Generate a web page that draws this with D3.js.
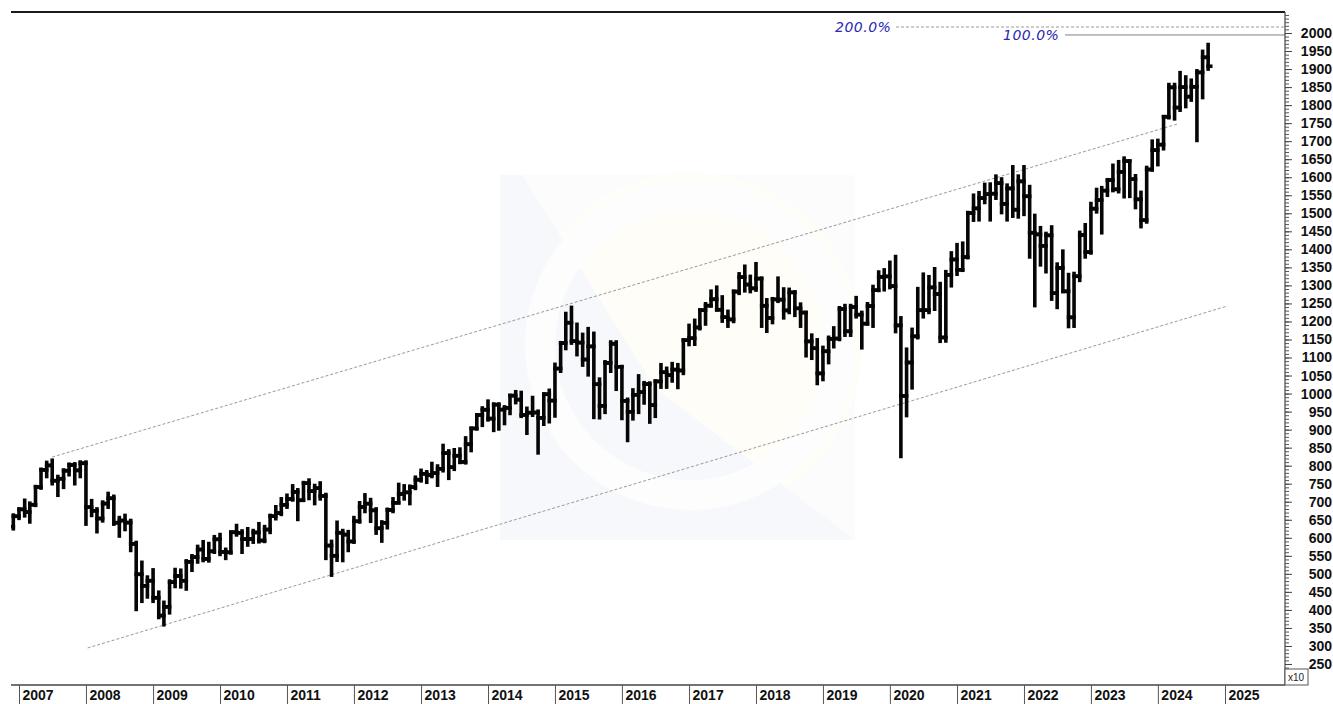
<!DOCTYPE html>
<html>
<head>
<meta charset="utf-8">
<script src="https://cdn.jsdelivr.net/npm/d3@7"></script>
<style>
  body { margin: 0; background: #fff; }
  svg { display: block; }
  .yr text, .ax text { font-family: "Liberation Sans", Arial, sans-serif; font-weight: bold; font-size: 14px; fill: #111; }
  .fib { font-family: "DejaVu Sans", Verdana, sans-serif; font-style: italic; font-size: 14px; fill: #2a2ab4; letter-spacing: 0.5px; }
</style>
</head>
<body>
<div id="chart"></div>
<script>
// monthly bars, Dec 2006 .. Oct 2024 (values in x10 units, as on the axis)
const firstMonth = new Date(2006, 11, 1);

const opens = [
  630.9,
  659.7, 678.9, 671.5, 691.7, 740.9, 788.3, 800.7, 758.4, 763.8, 786.1, 801.9, 787.0,
  806.7, 685.1, 674.8, 653.5, 694.9, 709.6, 641.8, 647.9, 642.2, 583.1, 498.8, 466.9,
  481.0, 433.8, 384.3, 408.5, 477.0, 494.1, 480.9, 533.2, 546.5, 567.5, 541.5, 562.5,
  595.7, 560.8, 559.8, 615.4, 613.6, 596.4, 596.6, 614.8, 592.5, 622.9, 660.1, 668.8,
  691.4, 707.7, 727.3, 704.1, 751.4, 729.4, 737.6, 715.9, 578.5, 550.2, 614.1, 608.9,
  589.8, 645.8, 685.6, 694.7, 676.1, 626.4, 641.6, 677.2, 697.0, 721.6, 726.0, 740.6,
  761.2, 777.6, 774.2, 779.5, 791.4, 834.9, 795.9, 827.6, 810.4, 859.4, 903.3, 940.5,
  955.2, 930.6, 969.2, 955.6, 960.3, 994.3, 983.3, 940.7, 947.0, 947.4, 932.7, 998.1,
  980.6, 1069.4, 1140.2, 1196.6, 1145.4, 1141.4, 1094.5, 1130.8, 1025.9, 966.0, 1085.0, 1138.2,
  1074.3, 979.8, 949.5, 996.5, 1003.9, 1026.3, 968.0, 1033.7, 1059.3, 1051.1, 1066.5, 1064.0,
  1148.1, 1153.5, 1183.4, 1231.3, 1243.8, 1261.5, 1232.5, 1211.8, 1205.6, 1282.9, 1323.0, 1302.4,
  1291.8, 1318.9, 1243.6, 1209.7, 1261.2, 1260.5, 1230.6, 1280.6, 1236.4, 1224.7, 1144.7, 1125.7,
  1055.9, 1117.3, 1151.6, 1152.6, 1234.4, 1172.7, 1239.9, 1218.9, 1193.9, 1242.8, 1286.7, 1323.6,
  1324.9, 1298.1, 1189.0, 993.6, 1086.2, 1158.7, 1231.1, 1231.3, 1294.5, 1276.1, 1155.6, 1329.1,
  1371.9, 1343.3, 1378.6, 1500.8, 1513.6, 1542.1, 1553.1, 1554.4, 1583.5, 1526.1, 1568.9, 1510.0,
  1588.5, 1547.1, 1446.1, 1441.5, 1409.8, 1438.8, 1278.4, 1348.4, 1283.5, 1211.4, 1325.3, 1439.7,
  1392.4, 1512.8, 1536.5, 1562.9, 1592.2, 1566.4, 1614.8, 1644.7, 1594.7, 1538.7, 1481.0, 1621.5,
  1675.2, 1690.4, 1767.8, 1849.2, 1793.2, 1849.8, 1823.5, 1850.9, 1890.7, 1932.5
];
const highs = [
  663.0,
  680.0, 704.0, 696.0, 742.0, 790.0, 809.0, 815.0, 770.0, 788.0, 804.0, 805.0, 810.0,
  810.0, 703.0, 680.0, 699.0, 723.0, 715.0, 656.0, 662.0, 648.0, 587.0, 532.0, 491.0,
  511.0, 449.0, 421.0, 480.0, 512.0, 510.0, 536.0, 550.0, 576.0, 589.0, 584.0, 603.0,
  609.0, 568.0, 616.0, 634.0, 619.0, 625.0, 620.0, 639.0, 631.0, 662.0, 686.0, 708.0,
  718.0, 744.0, 733.0, 753.0, 760.0, 745.0, 752.0, 720.0, 590.0, 643.0, 620.0, 617.0,
  656.0, 697.0, 719.0, 706.0, 680.0, 644.0, 679.0, 708.0, 748.0, 744.0, 743.0, 768.0,
  787.0, 783.0, 806.0, 799.0, 856.0, 841.0, 844.0, 846.0, 877.0, 904.0, 941.0, 960.0,
  979.0, 971.0, 971.0, 963.0, 995.0, 1005.0, 1003.0, 959.0, 989.0, 951.0, 999.0, 1009.0,
  1081.0, 1141.0, 1222.0, 1239.0, 1192.0, 1164.0, 1180.0, 1167.0, 1040.0, 1088.0, 1143.0, 1143.0,
  1075.0, 984.0, 1010.0, 1049.0, 1030.0, 1029.0, 1035.0, 1080.0, 1070.0, 1083.0, 1080.0, 1149.0,
  1189.0, 1203.0, 1232.0, 1249.0, 1284.0, 1295.0, 1268.0, 1228.0, 1284.0, 1332.0, 1353.0, 1325.0,
  1360.0, 1320.0, 1260.0, 1263.0, 1320.0, 1290.0, 1289.0, 1282.0, 1248.0, 1225.0, 1162.0, 1149.0,
  1128.0, 1156.0, 1182.0, 1238.0, 1244.0, 1244.0, 1266.0, 1225.0, 1249.0, 1297.0, 1337.0, 1343.0,
  1364.0, 1380.0, 1210.0, 1123.0, 1178.0, 1291.0, 1331.0, 1324.0, 1346.0, 1305.0, 1338.0, 1390.0,
  1413.0, 1417.0, 1502.0, 1550.0, 1557.0, 1580.0, 1581.0, 1603.0, 1595.0, 1578.0, 1629.0, 1603.0,
  1629.0, 1574.0, 1494.0, 1460.0, 1444.0, 1462.0, 1359.0, 1395.0, 1330.0, 1333.0, 1447.0, 1468.0,
  1527.0, 1566.0, 1571.0, 1593.0, 1633.0, 1643.0, 1653.0, 1645.0, 1604.0, 1558.0, 1627.0, 1700.0,
  1702.0, 1768.0, 1857.0, 1857.0, 1890.0, 1878.0, 1869.0, 1895.0, 1949.0, 1968.0
];
const lows = [
  625.0,
  654.0, 661.0, 644.0, 690.0, 738.0, 770.0, 750.0, 718.0, 740.0, 775.0, 750.0, 770.0,
  638.0, 662.0, 617.0, 647.0, 685.0, 638.0, 605.0, 623.0, 565.0, 401.4, 424.0, 436.0,
  424.0, 379.0, 358.8, 392.0, 465.0, 464.0, 458.0, 510.0, 533.0, 537.0, 536.0, 560.0,
  554.0, 543.0, 558.0, 608.0, 560.0, 580.0, 588.0, 589.0, 590.0, 615.0, 653.0, 665.0,
  685.0, 705.0, 651.0, 704.0, 709.0, 695.0, 708.0, 543.0, 496.5, 538.0, 537.0, 565.0,
  588.0, 644.0, 673.0, 646.0, 613.0, 591.0, 628.0, 673.0, 697.0, 708.0, 695.0, 737.0,
  758.0, 754.0, 770.0, 746.0, 786.0, 765.0, 790.0, 809.0, 808.0, 842.0, 902.0, 912.0,
  927.0, 898.0, 902.0, 917.0, 945.0, 975.0, 937.0, 890.0, 940.0, 835.5, 915.0, 922.0,
  938.0, 1062.0, 1125.0, 1140.0, 1108.0, 1079.0, 1052.0, 934.0, 933.0, 948.0, 1062.0, 1012.0,
  931.0, 870.0, 930.0, 948.0, 974.0, 921.0, 937.0, 1018.0, 1018.0, 1035.0, 1017.0, 1056.0,
  1136.0, 1137.0, 1180.0, 1193.0, 1243.0, 1232.0, 1201.0, 1187.0, 1200.0, 1278.0, 1285.0, 1283.0,
  1287.0, 1187.0, 1173.0, 1197.0, 1256.0, 1210.0, 1225.0, 1217.0, 1187.0, 1105.0, 1098.0, 1028.0,
  1039.0, 1086.0, 1130.0, 1150.0, 1162.0, 1162.0, 1213.0, 1127.0, 1193.0, 1187.0, 1286.0, 1288.0,
  1294.0, 1172.0, 825.6, 939.0, 1016.0, 1155.0, 1213.0, 1225.0, 1234.0, 1145.0, 1146.0, 1299.0,
  1331.0, 1342.0, 1377.0, 1481.0, 1482.0, 1530.0, 1482.0, 1542.0, 1502.0, 1482.0, 1492.0, 1490.0,
  1497.0, 1379.0, 1244.0, 1357.0, 1338.0, 1262.0, 1239.0, 1283.0, 1186.0, 1187.0, 1314.0, 1379.0,
  1390.0, 1504.0, 1446.0, 1550.0, 1563.0, 1560.0, 1546.0, 1547.0, 1516.0, 1463.0, 1476.0, 1620.0,
  1635.0, 1679.0, 1765.0, 1762.0, 1786.0, 1796.0, 1814.0, 1702.0, 1821.0, 1900.0
];
const closes = [
  659.7,
  678.9, 671.5, 691.7, 740.9, 788.3, 800.7, 758.4, 763.8, 786.1, 801.9, 787.0, 806.7,
  685.1, 674.8, 653.5, 694.9, 709.6, 641.8, 647.9, 642.2, 583.1, 498.8, 466.9, 481.0,
  433.8, 384.3, 408.5, 477.0, 494.1, 480.9, 533.2, 546.5, 567.5, 541.5, 562.5, 595.7,
  560.8, 559.8, 615.4, 613.6, 596.4, 596.6, 614.8, 592.5, 622.9, 660.1, 668.8, 691.4,
  707.7, 727.3, 704.1, 751.4, 729.4, 737.6, 715.9, 578.5, 550.2, 614.1, 608.9, 589.8,
  645.8, 685.6, 694.7, 676.1, 626.4, 641.6, 677.2, 697.0, 721.6, 726.0, 740.6, 761.2,
  777.6, 774.2, 779.5, 791.4, 834.9, 795.9, 827.6, 810.4, 859.4, 903.3, 940.5, 955.2,
  930.6, 969.2, 955.6, 960.3, 994.3, 983.3, 940.7, 947.0, 947.4, 932.7, 998.1, 980.6,
  1069.4, 1140.2, 1196.6, 1145.4, 1141.4, 1094.5, 1130.8, 1025.9, 966.0, 1085.0, 1138.2, 1074.3,
  979.8, 949.5, 996.5, 1003.9, 1026.3, 968.0, 1033.7, 1059.3, 1051.1, 1066.5, 1064.0, 1148.1,
  1153.5, 1183.4, 1231.3, 1243.8, 1261.5, 1232.5, 1211.8, 1205.6, 1282.9, 1323.0, 1302.4, 1291.8,
  1318.9, 1243.6, 1209.7, 1261.2, 1260.5, 1230.6, 1280.6, 1236.4, 1224.7, 1144.7, 1125.7, 1055.9,
  1117.3, 1151.6, 1152.6, 1234.4, 1172.7, 1239.9, 1218.9, 1193.9, 1242.8, 1286.7, 1323.6, 1324.9,
  1298.1, 1189.0, 993.6, 1086.2, 1158.7, 1231.1, 1231.3, 1294.5, 1276.1, 1155.6, 1329.1, 1371.9,
  1343.3, 1378.6, 1500.8, 1513.6, 1542.1, 1553.1, 1554.4, 1583.5, 1526.1, 1568.9, 1510.0, 1588.5,
  1547.1, 1446.1, 1441.5, 1409.8, 1438.8, 1278.4, 1348.4, 1283.5, 1211.4, 1325.3, 1439.7, 1392.4,
  1512.8, 1536.5, 1562.9, 1592.2, 1566.4, 1614.8, 1644.7, 1594.7, 1538.7, 1481.0, 1621.5, 1675.2,
  1690.4, 1767.8, 1849.2, 1793.2, 1849.8, 1823.5, 1850.9, 1890.7, 1932.5, 1907.8
];

const years = d3.range(2007, 2026);
const yTickValues = d3.range(250, 2001, 50);
const yMinorValues = d3.range(200, 2051, 10);

// channel lines [date, value]
const upperChannel = [[new Date(2007, 6, 1), 824], [new Date(2024, 3, 20), 1748]];
const lowerChannel = [[new Date(2008, 0, 10), 294.5], [new Date(2025, 0, 15), 1243]];

// extension levels
const fibLabels = ["200.0%", "100.0%"];
const fibValues = [2016.6, 1994.5];

const width = 1333;
const height = 704;
const plotLeft = 11;
const plotRight = 1285;
const plotTop = 12;
const plotBottom = 685;

const svg = d3.select('#chart').append('svg')
    .attr('width', width)
    .attr('height', height);

const xScale = d3.scaleTime()
    .domain([new Date(2007, 0, 1), new Date(2025, 0, 1)])
    .range([19, 1225]);

const yScale = d3.scaleLinear()
    .domain([250, 2000])
    .range([664, 33]);

// faint logo watermark behind everything
const mark = svg.append('g').attr('class', 'watermark');
mark.append('rect').attr('x', 500).attr('y', 175).attr('width', 355).attr('height', 365).attr('fill', '#fcfcfd');
mark.append('circle').attr('cx', 690).attr('cy', 345).attr('r', 172).attr('fill', '#fefdf7');
mark.append('path')
    .attr('d', 'M500,175 L522,175 L655,388 L855,540 L500,540 Z')
    .attr('fill', '#f7f8fb');
mark.append('circle').attr('cx', 690).attr('cy', 345).attr('r', 150).attr('fill', 'none')
    .attr('stroke', '#fdfdfe').attr('stroke-width', 30);

svg.append('defs').append('clipPath').attr('id', 'plot-clip')
    .append('rect')
    .attr('x', plotLeft).attr('y', plotTop)
    .attr('width', plotRight - plotLeft).attr('height', plotBottom - plotTop);

// channel lines
const chLine = d3.line().x((d) => xScale(d[0])).y((d) => yScale(d[1]));
[upperChannel, lowerChannel].forEach((ch) => {
    svg.append('path')
        .attr('d', chLine(ch))
        .attr('fill', 'none')
        .attr('stroke', '#9a9a9a')
        .attr('stroke-width', 1)
        .attr('stroke-dasharray', '3,2');
});

// extension level lines + labels
const fibStarts = [896, 1065];
const fibTextX = [835, 1003];
fibValues.forEach((v, i) => {
    svg.append('line')
        .attr('x1', fibStarts[i]).attr('x2', plotRight)
        .attr('y1', yScale(v)).attr('y2', yScale(v))
        .attr('stroke', i === 0 ? '#9a9a9a' : '#808080')
        .attr('stroke-width', 1)
        .attr('stroke-dasharray', i === 0 ? '3,2' : null);
    svg.append('text')
        .attr('class', 'fib')
        .attr('x', fibTextX[i])
        .attr('y', yScale(v) + 5)
        .text(fibLabels[i]);
});

// OHLC bars
const months = d3.timeMonth.range(firstMonth, d3.timeMonth.offset(firstMonth, closes.length));
const barData = months.map((m, i) => ({ date: m, o: opens[i], h: highs[i], l: lows[i], c: closes[i] }));

const bars = svg.append('g')
    .attr('clip-path', 'url(#plot-clip)')
    .attr('stroke', '#050505')
    .attr('stroke-width', 3.6)
    .attr('stroke-linecap', 'square');

const barGroup = bars.selectAll('g')
    .data(barData)
    .enter()
    .append('g');

barGroup.append('line')
    .attr('x1', (d) => xScale(d.date)).attr('x2', (d) => xScale(d.date))
    .attr('y1', (d) => yScale(d.h)).attr('y2', (d) => yScale(d.l));
barGroup.append('line')
    .attr('x1', (d) => xScale(d.date) - 2.6).attr('x2', (d) => xScale(d.date))
    .attr('y1', (d) => yScale(d.o)).attr('y2', (d) => yScale(d.o));
barGroup.append('line')
    .attr('x1', (d) => xScale(d.date)).attr('x2', (d) => xScale(d.date) + 2.6)
    .attr('y1', (d) => yScale(d.c)).attr('y2', (d) => yScale(d.c));

// frame
svg.append('line')
    .attr('x1', plotLeft).attr('x2', plotRight)
    .attr('y1', plotTop).attr('y2', plotTop)
    .attr('stroke', '#1a1a1a').attr('stroke-width', 2);
svg.append('line')
    .attr('x1', plotLeft).attr('x2', plotRight)
    .attr('y1', plotBottom).attr('y2', plotBottom)
    .attr('stroke', '#444').attr('stroke-width', 1.5);
svg.append('line')
    .attr('x1', plotRight).attr('x2', plotRight)
    .attr('y1', plotTop).attr('y2', plotBottom)
    .attr('stroke', '#444').attr('stroke-width', 1.2);

// right axis: minor then major ticks
const minorAxis = svg.append('g')
    .attr('transform', `translate(${plotRight}, 0)`)
    .call(d3.axisRight(yScale).tickValues(yMinorValues.filter((v) => yScale(v) > plotTop && yScale(v) < plotBottom - 14)).tickSize(4).tickFormat(''));
minorAxis.select('.domain').remove();
minorAxis.selectAll('line').attr('stroke', '#555');

const yAxis = svg.append('g')
    .attr('class', 'ax')
    .attr('transform', `translate(${plotRight}, 0)`)
    .call(d3.axisRight(yScale).tickValues(yTickValues).tickSize(7).tickFormat(d3.format('d')));
yAxis.select('.domain').remove();
yAxis.selectAll('line').attr('stroke', '#444');
yAxis.selectAll('text')
    .attr('x', 47)
    .attr('text-anchor', 'end');

// x10 box
svg.append('rect')
    .attr('x', plotRight).attr('y', 669)
    .attr('width', 23).attr('height', 16)
    .attr('fill', '#fff').attr('stroke', '#555').attr('stroke-width', 1);
svg.append('text')
    .attr('x', plotRight + 3).attr('y', 681)
    .attr('font-family', 'Liberation Sans, Arial, sans-serif')
    .attr('font-size', 10)
    .attr('fill', '#222')
    .text('x10');

// year strip along the bottom
const xAxis = svg.append('g')
    .attr('class', 'yr')
    .attr('transform', `translate(0, ${plotBottom})`)
    .call(d3.axisBottom(xScale)
        .tickValues(years.map((y) => new Date(y, 0, 1)))
        .tickSize(19)
        .tickFormat(d3.timeFormat('%Y')));
xAxis.select('.domain').remove();
xAxis.selectAll('line').attr('stroke', '#555');
xAxis.selectAll('text')
    .attr('text-anchor', 'start')
    .attr('x', 3)
    .attr('y', 15)
    .attr('dy', 0);
</script>
</body>
</html>
